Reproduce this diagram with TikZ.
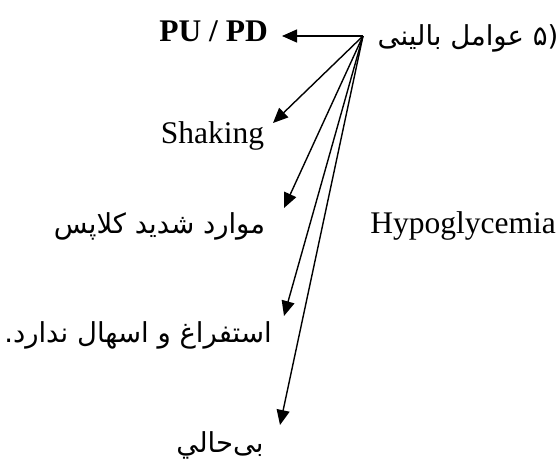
\documentclass[tikz,border=0pt]{standalone}
\usepackage{fontspec}
\setmainfont{Liberation Serif}
\newfontfamily\arabicfont[Script=Arabic]{DejaVu Sans}
\usetikzlibrary{arrows.meta}
\TeXXeTstate=1
\begin{document}
\begin{tikzpicture}[x=1pt,y=-1pt,
  lat/.style={font=\fontsize{31.5}{36}\selectfont, inner sep=0pt, anchor=base},
  ara/.style={font=\arabicfont\fontsize{27.5}{32}\selectfont, inner sep=0pt, anchor=center},
  arr/.style={line width=1.4pt, -{Triangle[length=15pt,width=13pt]}}]
\useasboundingbox (0,0) rectangle (560,461);
\coordinate (apex) at (363,36);
\node[ara] (title) at (468,38) {\beginR عوامل بالینی\endR\ (۵};
\node[lat] (pupd) at (213.5,41) {\textbf{PU / PD}};
\node[lat] (shaking) at (212.5,143) {Shaking};
\node[lat] (hypo) at (463,233) {Hypoglycemia};
\node[ara] (collapse) at (159.5,226) {\beginR موارد شدید کلاپس\endR};
\node[ara] (vomit) at (138,335) {\beginR استفراغ و اسهال ندارد.\endR};
\node[ara] (lethargy) at (220,445) {\beginR بی‌حالي\endR};
\coordinate (t1) at (282,36);
\coordinate (t2) at (273,123);
\coordinate (t3) at (284,208);
\coordinate (t4) at (284,316);
\coordinate (t5) at (280,425);
\foreach \t in {t1,t2,t3,t4,t5} \draw[arr] (apex) -- (\t);
\end{tikzpicture}
\end{document}
